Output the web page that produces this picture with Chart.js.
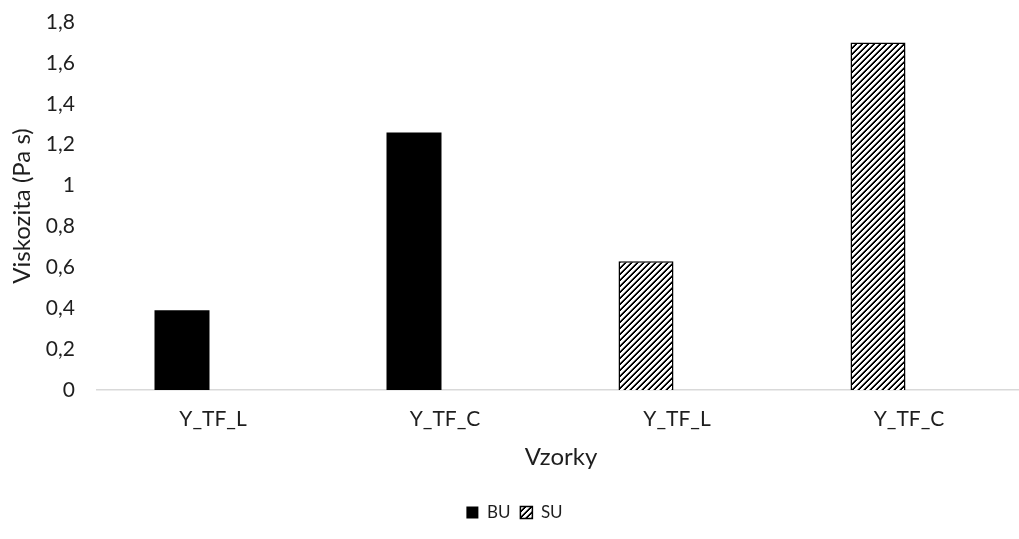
<!DOCTYPE html>
<html>
<head>
<meta charset="utf-8">
<script src="https://cdn.jsdelivr.net/npm/chart.js@4/dist/chart.umd.min.js"></script>
<style>
  html, body { margin: 0; padding: 0; background: #ffffff; overflow: hidden; }
  #wrap { width: 1019px; height: 539px; overflow: hidden; }
</style>
</head>
<body>
<div id="wrap"><canvas id="c" width="1032" height="539"></canvas></div>
<script>
const categories = ['Y_TF_L', 'Y_TF_C', 'Y_TF_L', 'Y_TF_C'];
const buValues = [0.39, 1.26, null, null];
const suValues = [null, null, 0.63, 1.70];
const yTicks = [0, 0.2, 0.4, 0.6, 0.8, 1, 1.2, 1.4, 1.6, 1.8];

// pixel-style upward diagonal hatch for the SU series
function makeHatch() {
  const s = 6;
  const p = document.createElement('canvas');
  p.width = s; p.height = s;
  const g = p.getContext('2d');
  g.fillStyle = '#ffffff';
  g.fillRect(0, 0, s, s);
  for (let y = 0; y < s; y++) {
    for (let x = 0; x < s; x++) {
      const d = (x + y) % s;
      if (d === 5 || d === 0) { g.fillStyle = '#000000'; g.fillRect(x, y, 1, 1); }
      else if (d === 4) { g.fillStyle = '#9a9a9a'; g.fillRect(x, y, 1, 1); }
    }
  }
  return g.createPattern(p, 'repeat');
}
const hatch = makeHatch();

const fontFamily = "Lato, 'Open Sans', sans-serif";
const textColor = '#1e1e1e';

new Chart(document.getElementById('c'), {
  type: 'bar',
  data: {
    labels: categories,
    datasets: [
      {
        label: 'BU',
        data: buValues,
        backgroundColor: '#000000',
        borderColor: '#000000',
        borderWidth: 0,
        stack: 'first'
      },
      {
        label: 'SU',
        data: suValues,
        backgroundColor: hatch,
        borderColor: '#000000',
        borderWidth: 1.5,
        stack: 'first'
      },
      {
        // keeps the second slot of each cluster empty
        label: '',
        data: categories.map(() => null),
        backgroundColor: 'rgba(0,0,0,0)',
        stack: 'second'
      }
    ]
  },
  options: {
    responsive: false,
    animation: false,
    layout: { padding: { left: 4, right: 7, top: 22, bottom: 8 } },
    datasets: {
      bar: { categoryPercentage: 0.5345, barPercentage: 0.887 }
    },
    scales: {
      x: {
        stacked: true,
        grid: { display: false, drawTicks: false },
        border: { display: true, color: '#d9d9d9', width: 1.5 },
        ticks: { color: textColor, font: { family: fontFamily, size: 21 }, padding: 17 },
        title: {
          display: true, text: 'Vzorky', color: textColor,
          font: { family: fontFamily, size: 24 }, padding: { top: -6, bottom: 22 }
        }
      },
      y: {
        stacked: true,
        min: 0,
        max: 1.8,
        afterBuildTicks: (axis) => { axis.ticks = yTicks.map(v => ({ value: v })); },
        afterFit: (axis) => {
          axis.width = 93;
          axis.paddingTop = 0;
          axis.paddingBottom = 0;
        },
        grid: { display: false, drawTicks: false },
        border: { display: false },
        ticks: {
          color: textColor,
          font: { family: fontFamily, size: 21 },
          padding: 22,
          callback: (v) => String(v).replace('.', ',')
        },
        title: {
          display: true, text: 'Viskozita (Pa s)', color: textColor,
          font: { family: fontFamily, size: 24 }, padding: { top: 4, bottom: 4 }
        }
      }
    },
    plugins: {
      legend: {
        position: 'bottom',
        labels: {
          color: textColor,
          font: { family: fontFamily, size: 17 },
          boxWidth: 12,
          boxHeight: 12,
          padding: 10,
          filter: (item) => item.text !== ''
        }
      },
      tooltip: { enabled: false }
    }
  }
});
</script>
</body>
</html>
